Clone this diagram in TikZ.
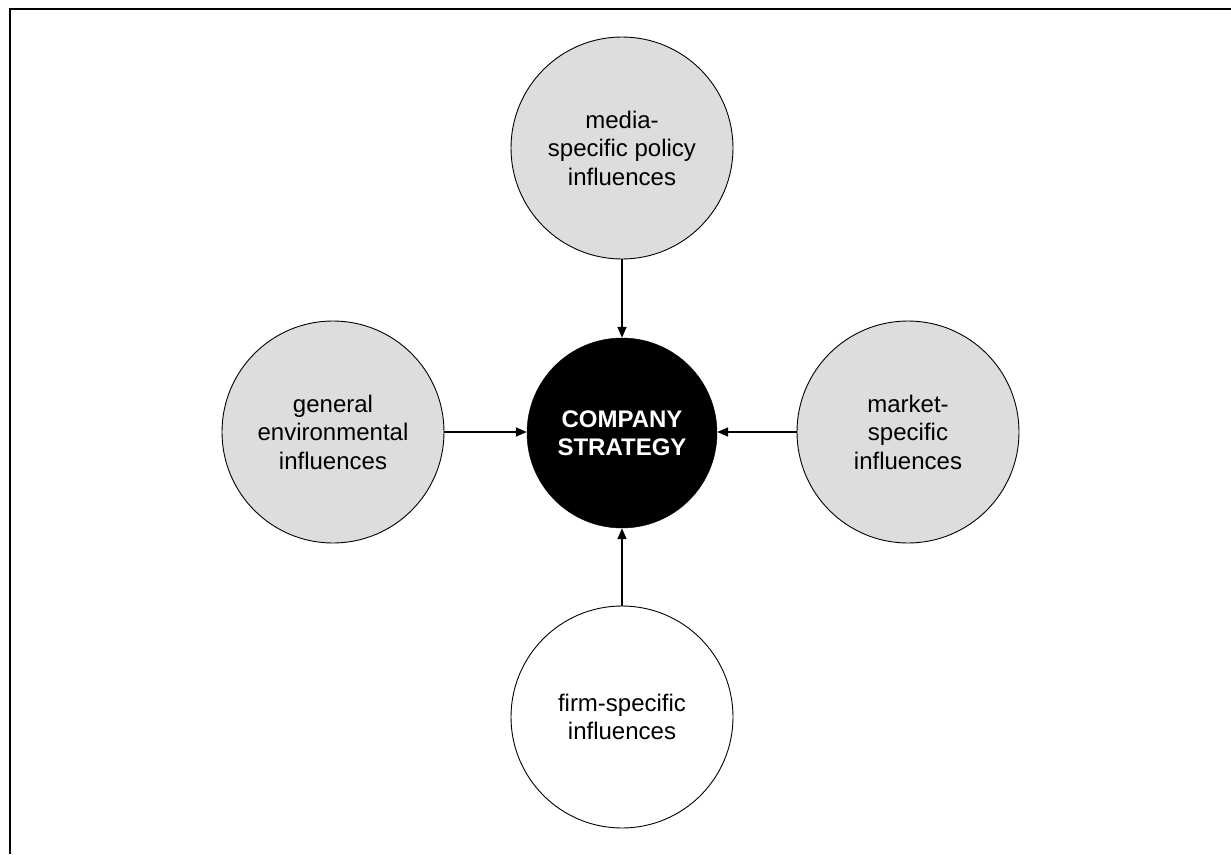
\documentclass[tikz,border=0pt]{standalone}
\usepackage{fontspec}
\setmainfont{Liberation Sans}
\usetikzlibrary{arrows.meta}
\definecolor{bubblegray}{HTML}{DDDDDD}
\begin{document}
\begin{tikzpicture}[x=1pt,y=1pt,
  bubble/.style={circle, draw=black, line width=0.9pt, fill=bubblegray, minimum size=222pt, inner sep=0pt, align=center, font=\fontsize{24}{28.5}\selectfont},
  core/.style={circle, draw=black, fill=black, text=white, minimum size=190pt, inner sep=0pt, align=center, font=\fontsize{24}{28}\selectfont\bfseries},
  link/.style={line width=1.5pt, -{Triangle[length=11pt,width=9pt]}}
]
\useasboundingbox (0,0) rectangle (1231,-854);
\draw[line width=2pt] (10,-854) -- (10,-9) -- (1231,-9);
\node[core] (cs) at (622,-433) {COMPANY\\STRATEGY};
\node[bubble] (media) at (622,-148) {media-\\specific policy\\influences};
\node[bubble] (gen) at (333,-432) {general\\environmental\\influences};
\node[bubble] (mkt) at (908,-432) {market-\\specific\\influences};
\node[bubble, fill=white] (firm) at (622,-717) {firm-specific\\influences};
\draw[link] (media) -- (cs);
\draw[link] (gen.east) -- (cs.west |- gen.east);
\draw[link] (mkt.west) -- (cs.east |- mkt.west);
\draw[link] (firm) -- (cs);
\end{tikzpicture}
\end{document}
